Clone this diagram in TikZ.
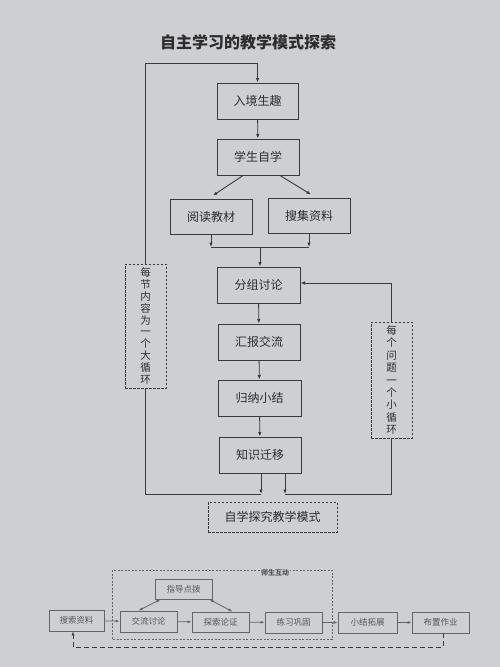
\documentclass[tikz,border=0pt]{standalone}
\usepackage{fontspec}
\newfontfamily\cjk{Noto Sans CJK SC}
\usetikzlibrary{arrows.meta,calc}
\definecolor{bg}{RGB}{206,207,211}
\definecolor{ln}{RGB}{58,58,60}
\definecolor{ln2}{RGB}{100,100,104}
\definecolor{tx}{RGB}{45,45,48}
\definecolor{tx2}{RGB}{85,85,90}
\tikzset{
  box/.style={draw=ln, line width=1pt, fill=bg, text=tx, font=\cjk\fontsize{12}{12}\selectfont, inner sep=0pt},
  dbox/.style={draw=ln, line width=0.7pt, dash pattern=on 2.5pt off 1.5pt, fill=bg, text=tx, inner sep=0pt, align=center},
  conn/.style={draw=ln, line width=0.9pt},
  arr/.style={conn, -{Latex[length=4.5pt,width=3.5pt]}},
  sbox/.style={draw=ln2, line width=0.8pt, fill=bg, text=tx2, font=\cjk\fontsize{8.5}{8.5}\selectfont, inner sep=0pt},
  sarr/.style={draw=ln2, line width=0.8pt, -{Latex[length=4pt,width=3pt]}},
  sdarr/.style={draw=ln2, line width=0.8pt, {Latex[length=4pt,width=3pt]}-{Latex[length=4pt,width=3pt]}},
}
\begin{document}
\begin{tikzpicture}[x=1pt,y=-1pt]
\fill[bg] (0,0) rectangle (500,667);
\useasboundingbox (0,0) rectangle (500,667);
% title
\node[text=tx, font=\cjk\bfseries\fontsize{16}{16}\selectfont] (title) at (248,42) {自主学习的教学模式探索};
% main boxes
\node[box, minimum width=81pt, minimum height=36pt] (n1) at (257.5,101) {入境生趣};
\node[box, minimum width=82pt, minimum height=36pt] (n2) at (258,157) {学生自学};
\node[box, minimum width=82pt, minimum height=35pt] (n3) at (211,216.5) {阅读教材};
\node[box, minimum width=82pt, minimum height=35pt] (n4) at (309,215.5) {搜集资料};
\node[box, minimum width=83pt, minimum height=36pt] (n5) at (258.5,285) {分组讨论};
\node[box, minimum width=82pt, minimum height=36pt] (n6) at (259,342) {汇报交流};
\node[box, minimum width=83pt, minimum height=36pt] (n7) at (259.5,398) {归纳小结};
\node[box, minimum width=82pt, minimum height=36pt] (n8) at (260,455) {知识迁移};
\node[dbox, minimum width=41pt, minimum height=124pt, font=\cjk\fontsize{10.5}{11.8}\selectfont] (L) at (145.5,326) {每\\节\\内\\容\\为\\一\\个\\大\\循\\环};
\node[dbox, minimum width=41pt, minimum height=116pt, font=\cjk\fontsize{10.5}{12.4}\selectfont] (R) at (391.5,380) {每\\个\\问\\题\\一\\个\\小\\循\\环};
\node[dbox, minimum width=129pt, minimum height=30pt, font=\cjk\fontsize{12}{12}\selectfont] (M) at (272.5,517) {自学探究教学模式};
% coordinates
\coordinate (tl) at (145.5,63);
\coordinate (tr) at (257.5,63);
\coordinate (jl) at (211,247);
\coordinate (jr) at (309,247);
\coordinate (jm) at (260,247);
\coordinate (bl) at (145.5,494);
\coordinate (bm1) at (261,494);
\coordinate (bm2) at (285,494);
\coordinate (br) at (391.5,494);
\coordinate (rt) at (391.5,283);
% connectors
\draw[arr] (L.north) -- (tl) -- (tr) -- (n1.north);
\draw[arr] (n1) -- (n2);
\draw[arr] ($(n2.south)+(-15,0)$) -- ($(n3.north)+(2,-3)$);
\draw[arr] ($(n2.south)+(22,0)$) -- ($(n4.north)+(2,-3)$);
\draw[arr] (n3.south) -- (jl);
\draw[arr] (n4.south) -- (jr);
\draw[conn] (jl) -- (jr);
\draw[arr] (jm) -- (n5.north -| jm);
\draw[arr] (n5) -- (n6);
\draw[arr] (n6) -- (n7);
\draw[arr] (n7) -- (n8);
\draw[conn] (L.south) -- (bl) -- (bm1);
\draw[conn] (R.south) -- (br) -- (bm2);
\draw[arr] (n8.south -| bm1) -- (bm1);
\draw[arr] (n8.south -| bm2) -- (bm2);
\draw[arr] (R.north) -- (rt) -- (rt -| n5.east);
% bottom diagram
\draw[draw=ln2, line width=0.7pt, dash pattern=on 2pt off 1.5pt] (112,570) rectangle (332,639);
\node[fill=bg, text=tx2, font=\cjk\bfseries\fontsize{7}{7}\selectfont, inner sep=1pt] (lab) at (275,573) {师生互动};
\node[sbox, minimum width=55pt, minimum height=21pt] (b1) at (76.5,620.5) {搜索资料};
\node[sbox, minimum width=57pt, minimum height=20pt] (b0) at (183.5,589) {指导点拨};
\node[sbox, minimum width=57pt, minimum height=21pt] (b2) at (148.5,621.5) {交流讨论};
\node[sbox, minimum width=57pt, minimum height=20pt] (b3) at (220.5,622) {探索论证};
\node[sbox, minimum width=57pt, minimum height=21pt] (b4) at (293.5,622.5) {练习巩固};
\node[sbox, minimum width=59pt, minimum height=21pt] (b5) at (367.5,622.5) {小结拓展};
\node[sbox, minimum width=57pt, minimum height=21pt] (b6) at (440.5,622.5) {布置作业};
\draw[sarr] (b1) -- (b2);
\draw[sarr] (b2) -- (b3);
\draw[sarr] (b3) -- (b4);
\draw[sarr] (b4) -- (b5);
\draw[sarr] (b5) -- (b6);
\draw[sdarr] ($(b2.north)+(-10,0)$) -- ($(b0.south)+(-23,0)$);
\draw[sdarr] ($(b0.south)+(26,0)$) -- ($(b3.north)+(12,0)$);
\coordinate (f1) at (443,647);
\coordinate (f2) at (73,647);
\draw[draw=ln, line width=1pt, dash pattern=on 5pt off 3pt, -{Latex[length=4pt,width=3pt]}] (b6.south -| f1) -- (f1) -- (f2) -- (b1.south -| f2);
\end{tikzpicture}
\end{document}
